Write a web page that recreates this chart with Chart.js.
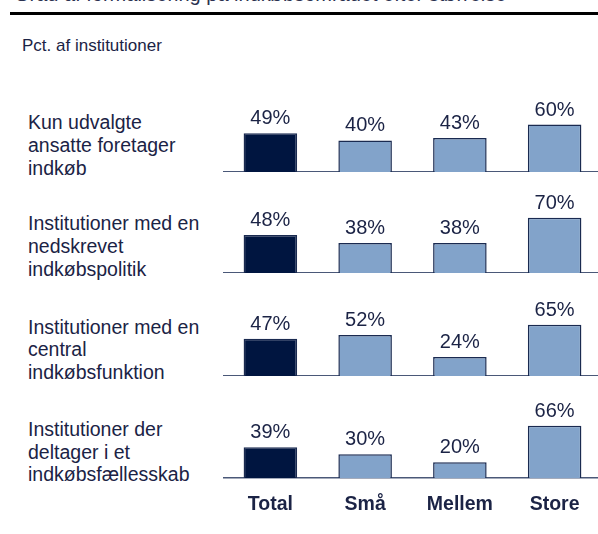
<!DOCTYPE html>
<html>
<head>
<meta charset="utf-8">
<script src="https://cdn.jsdelivr.net/npm/chart.js@4/dist/chart.umd.min.js"></script>
<style>
  html, body { margin: 0; padding: 0; background: #fff; }
  body { width: 598px; height: 534px; position: relative; overflow: hidden;
         font-family: "Liberation Sans", Arial, sans-serif; color: #1b2345; }
  .title { position: absolute; left: 14px; top: -18px; font-size: 20px; line-height: 24px;
           white-space: nowrap; color: #2b3150; }
  .rule { position: absolute; left: 10px; right: 0; top: 12px; height: 3px; background: #000; }
  .sub { position: absolute; left: 22px; top: 36px; font-size: 17px; line-height: 20px; }
  .rowlabel { position: absolute; left: 28px; font-size: 19.5px; line-height: 22.7px; }
  .panel { position: absolute; left: 223px; width: 379px; }
</style>
</head>
<body>
<div class="title">Grad af formalisering på indkøbsområdet efter størrelse</div>
<div class="rule"></div>
<div class="sub">Pct. af institutioner</div>
<div id="root"></div>
<script>
const categories = ["Total", "Små", "Mellem", "Store"];
const rowLabels = [
  ["Kun udvalgte", "ansatte foretager", "indkøb"],
  ["Institutioner med en", "nedskrevet", "indkøbspolitik"],
  ["Institutioner med en", "central", "indkøbsfunktion"],
  ["Institutioner der", "deltager i et", "indkøbsfællesskab"]
];
const kunUdvalgte = [49, 40, 43, 60];
const nedskrevetPolitik = [48, 38, 38, 70];
const centralFunktion = [47, 52, 24, 65];
const indkoebsfaellesskab = [39, 30, 20, 66];
const rows = [kunUdvalgte, nedskrevetPolitik, centralFunktion, indkoebsfaellesskab];

// y pixel of each panel's baseline
const baselines = [171.7, 272.7, 376, 478.3];
const plotH = 79, padTop = 20, tickH = 42;
const navy = "#1b2345";
const font = "'Liberation Sans', Arial, sans-serif";

const valueLabels = {
  id: "valueLabels",
  afterDatasetsDraw(chart) {
    const ctx = chart.ctx;
    const meta = chart.getDatasetMeta(0);
    const data = chart.data.datasets[0].data;
    ctx.save();
    ctx.font = "20px " + font;
    ctx.fillStyle = navy;
    ctx.textAlign = "center";
    ctx.textBaseline = "alphabetic";
    meta.data.forEach((bar, i) => {
      ctx.fillText(data[i] + "%", bar.x, bar.y - 9);
    });
    ctx.restore();
  }
};

const root = document.getElementById("root");
rows.forEach((values, r) => {
  const last = r === rows.length - 1;
  const lbl = document.createElement("div");
  lbl.className = "rowlabel";
  lbl.style.top = (baselines[r] + 3 - 2 * 22.7 - 18.1) + "px";
  lbl.innerHTML = rowLabels[r].join("<br>");
  root.appendChild(lbl);

  const box = document.createElement("div");
  box.className = "panel";
  box.style.top = (baselines[r] - plotH - padTop) + "px";
  box.style.height = (padTop + plotH + (last ? tickH : 0)) + "px";
  const cv = document.createElement("canvas");
  box.appendChild(cv);
  root.appendChild(box);

  new Chart(cv, {
    type: "bar",
    data: {
      labels: categories,
      datasets: [{
        data: values,
        backgroundColor: ["#001540", "#82a3ca", "#82a3ca", "#82a3ca"],
        borderColor: "#1a2a50",
        borderWidth: 1.5,
        barPercentage: 0.565,
        categoryPercentage: 1
      }]
    },
    options: {
      responsive: true,
      maintainAspectRatio: false,
      animation: false,
      layout: { padding: { top: padTop, left: 0, right: 0, bottom: 0 } },
      plugins: { legend: { display: false }, tooltip: { enabled: false } },
      scales: {
        x: {
          grid: { display: false, drawTicks: false },
          border: { display: true, color: "#4a5878", width: 1.5 },
          ticks: {
            display: last,
            padding: 15,
            color: navy,
            font: { family: font, size: 19.5, weight: "bold" }
          },
          afterFit: s => { s.height = last ? tickH : 0; }
        },
        y: { display: false, min: 0, max: 100 }
      }
    },
    plugins: [valueLabels]
  });
});
</script>
</body>
</html>
